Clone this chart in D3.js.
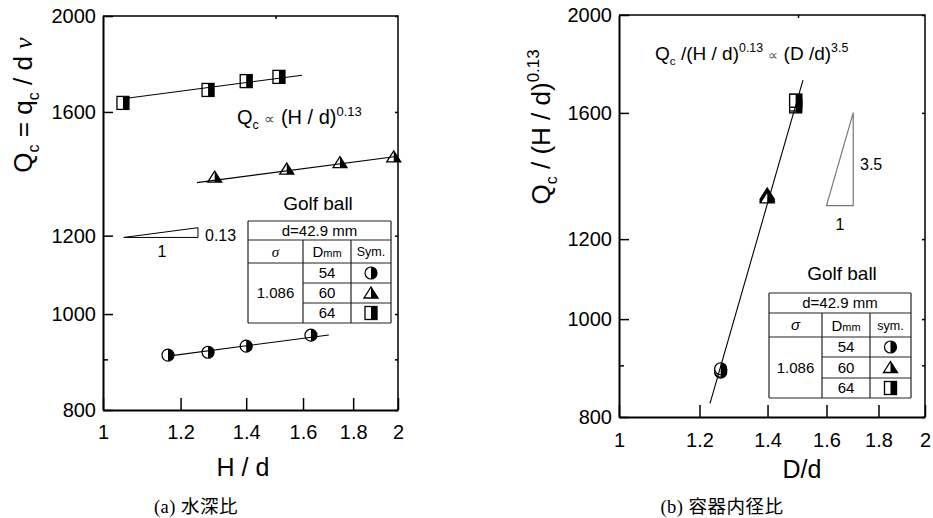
<!DOCTYPE html>
<html><head><meta charset="utf-8">
<script src="https://cdn.jsdelivr.net/npm/d3@7"></script>
<style>
body{margin:0;background:#fff}
svg text{font-family:"Liberation Sans",Arial,sans-serif;fill:#000}
</style></head><body>
<svg id="chart" width="933" height="518"></svg>
<script>
// (a) Qc against H/d, one series per container diameter
var hdCircle = [1.165, 1.28, 1.40, 1.63];      // D = 54 mm
var qcCircle = [909, 915, 928, 952];
var hdTriangle = [1.30, 1.54, 1.745, 1.98];    // D = 60 mm
var qcTriangle = [1375, 1401, 1422, 1441];
var hdSquare = [1.048, 1.28, 1.40, 1.512];     // D = 64 mm
var qcSquare = [1634, 1684, 1719, 1736];
// fitted lines Qc = C (H/d)^0.13
var fitCoefA = [889, 1319, 1640];
var fitFromA = [1.165, 1.247, 1.048];
var fitToA = [1.70, 2.0, 1.596];
var expA = 0.13;

// (b) Qc/(H/d)^0.13 against D/d
var ddCircle = [1.259, 1.259, 1.259, 1.259];
var normCircle = [891, 886, 888, 893];
var ddTriangle = [1.399, 1.399, 1.399, 1.399];
var normTriangle = [1330, 1324, 1323, 1318];
var ddSquare = [1.492, 1.492, 1.492, 1.492];
var normSquare = [1624, 1631, 1645, 1645];
var fitCoefB = 401, fitFromB = 1.229, fitToB = 1.517, expB = 3.5;

var yTicks = [800, 1000, 1200, 1600, 2000];
var yMinor = [900];
var xTicks = [1, 1.2, 1.4, 1.6, 1.8, 2];
var diameters = ["54", "60", "64"];
var sigma = "1.086";

var svg = d3.select('#chart');

// text with sub / superscripts: parts = [[text, 'n'|'sub'|'sup', extra style]]
function rich(t, parts, size) {
  var prev = 0;
  parts.forEach(function (p) {
    var off = 0, fs = size;
    if (p[1] === 'sub') { off = size * 0.25; fs = size * 0.62; }
    if (p[1] === 'sup') { off = -size * 0.42; fs = size * 0.65; }
    var s = t.append('tspan').text(p[0]).attr('font-size', fs).attr('dy', off - prev);
    if (p[2]) s.attr('style', p[2]);
    prev = off;
  });
  return t;
}

function marker(g, kind, cx, cy) {
  if (kind === 'circle') {
    g.append('circle').attr('cx', cx).attr('cy', cy).attr('r', 6)
      .attr('fill', '#fff').attr('stroke', '#000').attr('stroke-width', 1.2);
    g.append('path').attr('d', 'M' + cx + ',' + (cy - 6) + 'A6,6 0 0 1 ' + cx + ',' + (cy + 6) + 'Z')
      .attr('fill', '#000');
  } else if (kind === 'triangle') {
    g.append('path').attr('d', 'M' + cx + ',' + (cy - 6) + 'L' + (cx + 7) + ',' + (cy + 5) + 'L' + (cx - 7) + ',' + (cy + 5) + 'Z')
      .attr('fill', '#fff').attr('stroke', '#000').attr('stroke-width', 1.3);
    g.append('path').attr('d', 'M' + cx + ',' + (cy - 6) + 'L' + (cx + 7) + ',' + (cy + 5) + 'L' + cx + ',' + (cy + 5) + 'Z')
      .attr('fill', '#000');
  } else {
    g.append('rect').attr('x', cx - 6).attr('y', cy - 6.5).attr('width', 12).attr('height', 13)
      .attr('fill', '#fff').attr('stroke', '#000').attr('stroke-width', 1.3);
    g.append('rect').attr('x', cx).attr('y', cy - 6.5).attr('width', 6).attr('height', 13)
      .attr('fill', '#000');
  }
}

function axes(p, x, y) {
  var g = svg.append('g');
  // top / right frame
  g.append('path').attr('d', 'M' + p.x0 + ',' + p.y0 + 'H' + p.x1 + 'V' + p.y1)
    .attr('fill', 'none').attr('stroke', '#000').attr('stroke-width', 1.5);

  var left = g.append('g').attr('transform', 'translate(' + p.x0 + ',0)')
    .call(d3.axisLeft(y).tickValues(yTicks).tickFormat(d3.format('d'))
      .tickSize(-10).tickSizeOuter(0).tickPadding(7));
  left.selectAll('text').attr('font-size', 20).attr('font-family', 'Liberation Sans');
  g.append('g').attr('transform', 'translate(' + p.x0 + ',0)')
    .call(d3.axisLeft(y).tickValues(yMinor).tickFormat('').tickSize(-5))
    .call(function (s) { s.select('.domain').remove(); });
  g.append('g').attr('transform', 'translate(' + p.x1 + ',0)')
    .call(d3.axisRight(y).tickValues(yTicks.concat(yMinor)).tickFormat('').tickSize(-3))
    .call(function (s) { s.select('.domain').remove(); });

  var bottom = g.append('g').attr('transform', 'translate(0,' + p.y1 + ')')
    .call(d3.axisBottom(x).tickValues(xTicks).tickFormat(function (d) { return String(d); })
      .tickSize(-12).tickSizeOuter(0).tickPadding(p.xPad));
  bottom.selectAll('text').attr('font-size', 20).attr('font-family', 'Liberation Sans');
  g.append('g').attr('transform', 'translate(0,' + p.y0 + ')')
    .call(d3.axisTop(x).tickValues([1.5]).tickFormat('').tickSize(-3))
    .call(function (s) { s.select('.domain').remove(); });

  g.selectAll('.domain').attr('stroke-width', 2);
  g.selectAll('.tick line').attr('stroke-width', 1.5);
}

function table(p, symHead, sigmaStyle) {
  var c = p.cols, r = p.rows, g = svg.append('g');
  var ln = function (x1, y1, x2, y2) {
    g.append('line').attr('x1', x1).attr('y1', y1).attr('x2', x2).attr('y2', y2)
      .attr('stroke', '#222').attr('stroke-width', 1.2);
  };
  ln(c[0], r[0], c[3], r[0]); ln(c[0], r[5], c[3], r[5]);
  ln(c[0], r[0], c[0], r[5]); ln(c[3], r[0], c[3], r[5]);
  ln(c[0], r[1], c[3], r[1]); ln(c[0], r[2], c[3], r[2]);
  ln(c[1], r[3], c[3], r[3]); ln(c[1], r[4], c[3], r[4]);
  ln(c[1], r[1], c[1], r[5]); ln(c[2], r[1], c[2], r[5]);
  var txt = function (x, y, s, fs) {
    return g.append('text').attr('x', x).attr('y', y).attr('dy', '0.36em')
      .attr('text-anchor', 'middle').attr('font-size', fs).text(s);
  };
  txt((c[0] + c[3]) / 2, (r[0] + r[1]) / 2, 'd=42.9 mm', 15);
  txt((c[0] + c[1]) / 2, (r[1] + r[2]) / 2, 'σ', 15).attr('style', sigmaStyle);
  var dm = g.append('text').attr('x', (c[1] + c[2]) / 2).attr('y', (r[1] + r[2]) / 2)
    .attr('dy', '0.36em').attr('text-anchor', 'middle');
  dm.append('tspan').attr('font-size', 15).text('D');
  dm.append('tspan').attr('font-size', 11).text('mm');
  txt((c[2] + c[3]) / 2, (r[1] + r[2]) / 2, symHead, 12.5);
  txt((c[0] + c[1]) / 2, (r[2] + r[5]) / 2, sigma, 15);
  var kinds = ['circle', 'triangle', 'square'];
  diameters.forEach(function (d, i) {
    var cy = (r[2 + i] + r[3 + i]) / 2;
    txt((c[1] + c[2]) / 2, cy, d, 15);
    marker(g, kinds[i], (c[2] + c[3]) / 2, cy);
  });
  svg.append('text').attr('x', p.titleX).attr('y', p.titleY).attr('text-anchor', 'middle')
    .attr('font-size', 19).text('Golf ball');
}

// ---------- panel (a)
var pa = { x0: 103, x1: 398, y0: 16, y1: 410, xPad: 15 };
var xa = d3.scaleLog().domain([1, 2]).range([pa.x0, pa.x1]);
var ya = d3.scaleLog().domain([800, 2000]).range([pa.y1, pa.y0]);

var ga = svg.append('g');
[[hdCircle, qcCircle, 'circle'], [hdTriangle, qcTriangle, 'triangle'], [hdSquare, qcSquare, 'square']]
  .forEach(function (s) {
    s[0].forEach(function (h, i) { marker(ga, s[2], xa(h), ya(s[1][i])); });
  });
var lineA = d3.line().x(function (d) { return xa(d[0]); }).y(function (d) { return ya(d[1]); });
fitCoefA.forEach(function (C, i) {
  var pts = [fitFromA[i], fitToA[i]].map(function (h) { return [h, C * Math.pow(h, expA)]; });
  ga.append('path').attr('d', lineA(pts)).attr('fill', 'none').attr('stroke', '#000').attr('stroke-width', 1.1);
});
axes(pa, xa, ya);

// slope triangle 0.13
var sa = [[1.05, 1195], [1.25, 1195 * Math.pow(1.25 / 1.05, expA)], [1.25, 1195]];
ga.append('path').attr('d', lineA(sa) + 'Z').attr('fill', 'none').attr('stroke', '#000').attr('stroke-width', 1);
svg.append('text').attr('x', 162).attr('y', 257).attr('text-anchor', 'middle').attr('font-size', 16).text('1');
svg.append('text').attr('x', 205).attr('y', 241).attr('font-size', 16).text('0.13');

rich(svg.append('text').attr('x', 237).attr('y', 124),
  [['Q', 'n'], ['c', 'sub'], [' ', 'n'], ['∝', 'n', 'font-size:15px;fill:#555'], [' (H / d)', 'n'], ['0.13', 'sup']], 20);

table({ cols: [248, 303, 351, 391], rows: [221, 240, 263, 283, 303, 323], titleX: 318, titleY: 210 },
  'Sym.', 'font-family:"Liberation Serif";font-style:italic');

svg.append('text').attr('x', 243).attr('y', 476).attr('text-anchor', 'middle').attr('font-size', 25).text('H / d');
rich(svg.append('text').attr('transform', 'translate(32,105) rotate(-90)').attr('text-anchor', 'middle'),
  [['Q', 'n'], ['c', 'sub'], [' = q', 'n'], ['c', 'sub'], [' / d ', 'n'], ['ν', 'n', 'font-family:"Liberation Serif";font-style:italic']], 26);
svg.append('text').attr('x', 196).attr('y', 513).attr('text-anchor', 'middle').attr('font-size', 18.5)
  .attr('style', 'font-family:"Liberation Serif","Noto Sans CJK JP";letter-spacing:0.5px').text('(a) 水深比');

// ---------- panel (b)
var pb = { x0: 619, x1: 925, y0: 15, y1: 417, xPad: 16 };
var xb = d3.scaleLog().domain([1, 2]).range([pb.x0, pb.x1]);
var yb = d3.scaleLog().domain([800, 2000]).range([pb.y1, pb.y0]);
var gb = svg.append('g');
[[ddCircle, normCircle, 'circle'], [ddTriangle, normTriangle, 'triangle'], [ddSquare, normSquare, 'square']]
  .forEach(function (s) {
    s[0].forEach(function (h, i) { marker(gb, s[2], xb(h), yb(s[1][i])); });
  });
var lineB = d3.line().x(function (d) { return xb(d[0]); }).y(function (d) { return yb(d[1]); });
gb.append('path').attr('d', lineB([fitFromB, fitToB].map(function (h) { return [h, fitCoefB * Math.pow(h, expB)]; })))
  .attr('fill', 'none').attr('stroke', '#000').attr('stroke-width', 1.1);
axes(pb, xb, yb);

var sb = [[1.6, 1295], [1.7, 1295], [1.7, 1295 * Math.pow(1.7 / 1.6, expB)]];
gb.append('path').attr('d', lineB(sb) + 'Z').attr('fill', 'none').attr('stroke', '#777').attr('stroke-width', 1.2);
svg.append('text').attr('x', 860).attr('y', 170).attr('font-size', 16).text('3.5');
svg.append('text').attr('x', 840).attr('y', 230).attr('text-anchor', 'middle').attr('font-size', 16).text('1');

rich(svg.append('text').attr('x', 655).attr('y', 60),
  [['Q', 'n'], ['c', 'sub'], [' /(H / d)', 'n'], ['0.13', 'sup'], [' ', 'n'], ['∝', 'n', 'font-size:14px;fill:#555'],
   [' (D /d)', 'n'], ['3.5', 'sup']], 19);

table({ cols: [769, 822, 870, 911], rows: [293, 313, 337, 357, 378, 398], titleX: 842, titleY: 280 },
  'sym.', 'font-style:italic');

svg.append('text').attr('x', 802).attr('y', 478).attr('text-anchor', 'middle').attr('font-size', 25).text('D/d');
rich(svg.append('text').attr('transform', 'translate(550,127) rotate(-90)').attr('text-anchor', 'middle'),
  [['Q', 'n'], ['c', 'sub'], [' / (H / d)', 'n'], ['0.13', 'sup']], 26);
svg.append('text').attr('x', 722).attr('y', 513).attr('text-anchor', 'middle').attr('font-size', 18.5)
  .attr('style', 'font-family:"Liberation Serif","Noto Sans CJK JP";letter-spacing:0.5px').text('(b) 容器内径比');
</script>
</body></html>
